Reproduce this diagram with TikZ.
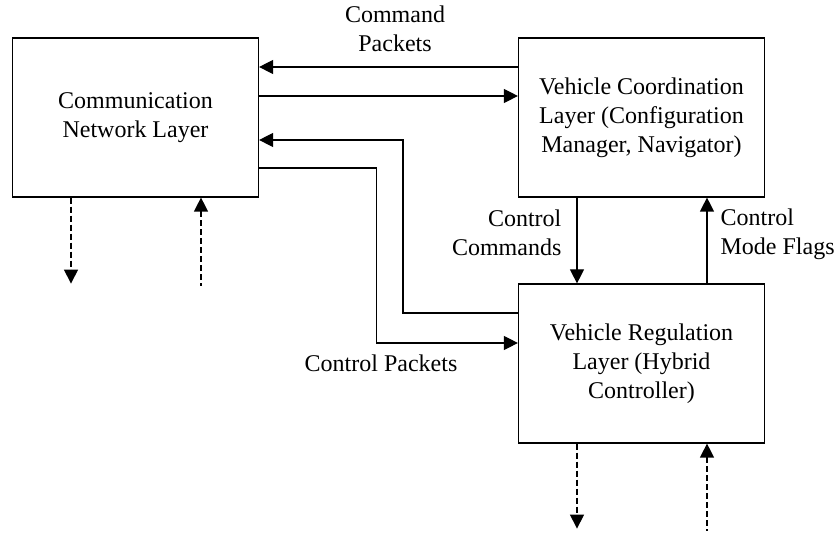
\documentclass[tikz,border=0pt,12pt]{standalone}
\usepackage{fontspec}
\setmainfont{Liberation Serif}
\usetikzlibrary{arrows.meta}

\begin{document}
\begin{tikzpicture}[x=0.5pt,y=-0.5pt,line width=0.6pt,>={Triangle[length=7pt,width=7pt]},
layer/.style={draw,align=center,minimum width=123pt,minimum height=79.5pt,inner sep=2pt},
lbl/.style={inner sep=0pt}, link/.style={dashed,dash pattern=on 3pt off 1.5pt}]
\useasboundingbox (0,0) rectangle (835,533);
\node [layer] (cnl) at (135.5,117.5) {Communication\\Network Layer};
\node [layer] (vcl) at (641.5,117.5) {Vehicle Coordination\\Layer (Configuration\\Manager, Navigator)};
\node [layer] (vrl) at (641.5,363.5) {Vehicle Regulation\\Layer (Hybrid\\Controller)};
% labels
\node [lbl,align=center] (cmdpk) at (395,29) {Command\\Packets};
\node [lbl] (ctlpk) at (381,363) {Control Packets};
\node [lbl,anchor=east,align=right] (ctlcmd) at (562,232.5) {Control\\Commands};
\node [lbl,anchor=west,align=left] (modefl) at (720,234) {Control\\Mode Flags};
% network <-> coordination
\draw[->] ([yshift=25.25pt]vcl.west) -- ([yshift=25.25pt]cnl.east);
\draw[->] ([yshift=10.75pt]cnl.east) -- ([yshift=10.75pt]vcl.west);
% network <-> regulation
\draw[->] ([yshift=25.25pt]vrl.west) -- ++(-115,0) |- ([yshift=-11.25pt]cnl.east);
\draw[->] ([yshift=-25.25pt]cnl.east) -- ++(117,0) |- ([yshift=10.25pt]vrl.west);
% coordination <-> regulation
\draw[->] ([xshift=-32.25pt]vcl.south) -- ([xshift=-32.25pt]vrl.north);
\draw[->] ([xshift=32.75pt]vrl.north) -- ([xshift=32.75pt]vcl.south);
% outside links
\draw[->,link] ([xshift=-32.25pt]cnl.south) -- ++(0,86);
\draw[<-,link] ([xshift=32.75pt]cnl.south) -- ++(0,88);
\draw[->,link] ([xshift=-32.25pt]vrl.south) -- ++(0,85);
\draw[<-,link] ([xshift=32.75pt]vrl.south) -- ++(0,87);
\end{tikzpicture}
\end{document}
